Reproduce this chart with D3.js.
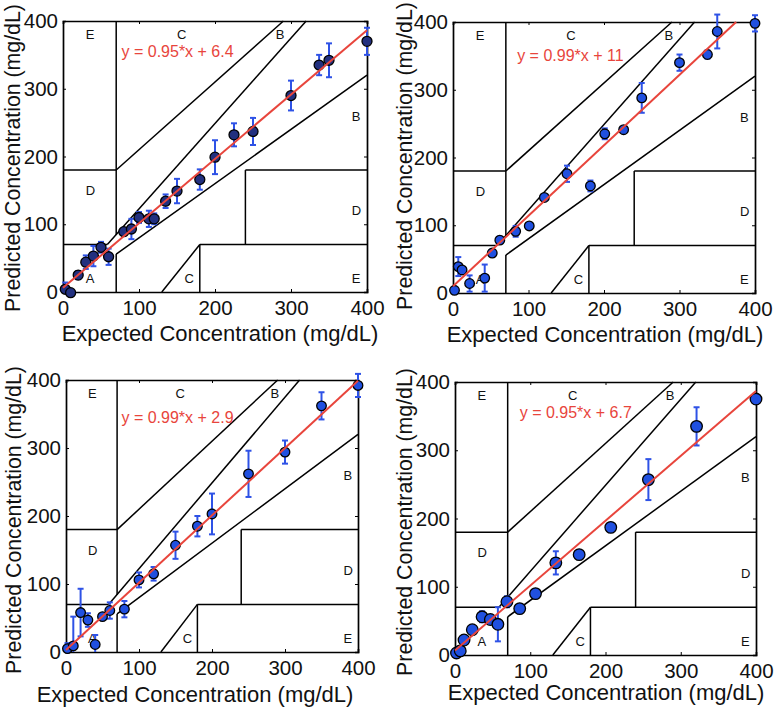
<!DOCTYPE html>
<html><head><meta charset="utf-8">
<script src="https://cdn.jsdelivr.net/npm/d3@7"></script>
<style>body{margin:0;background:#fff} svg{display:block}</style>
</head><body>
<svg id="c" width="775" height="709"></svg>
<script>
// ---------- data ----------
const ticks = [0, 100, 200, 300, 400];
const tickLabels = ["0", "100", "200", "300", "400"];
const xTitle = "Expected Concentration (mg/dL)";
const yTitle = "Predicted Concentration (mg/dL)";

// Clarke error grid boundaries [x1, y1, x2, y2] (mg/dL)
const zoneLines = [
  [0, 70, 175/3, 70], [175/3, 70, 320, 400], [70, 84, 70, 400], [0, 180, 70, 180],
  [70, 180, 290, 400], [70, 0, 70, 56], [70, 56, 400, 320], [180, 0, 180, 70],
  [180, 70, 400, 70], [240, 70, 240, 180], [240, 180, 400, 180], [130, 0, 180, 70]
];
const zoneNames = ["A", "D", "E", "C", "C", "E", "D", "B", "B"];
const zoneNameX = [30, 30, 30, 150, 160, 380, 380, 380, 280];
const zoneNameY = [20, 150, 380, 380, 20, 20, 120, 260, 380];

const p1X = [3, 10, 20, 30, 40, 50, 60, 80, 90, 100, 113, 120, 135, 150, 180, 200, 225, 250, 300, 337, 350, 400];
const p1Y = [4, -1, 25, 44, 53, 66, 52, 89, 93, 110, 108, 108, 134, 149, 166, 199, 232, 237, 290, 335, 342, 370];
const p1E = [10, 4, 6, 10, 15, 8, 12, 5, 15, 8, 12, 8, 10, 18, 15, 25, 17, 20, 22, 15, 25, 20];

const p2X = [2, 7, 12, 22, 42, 52, 62, 83, 101, 121, 151, 182, 201, 226, 250, 300, 337, 350, 400];
const p2Y = [4, 39, 34, 14, 22, 59, 78, 91, 99, 141, 176, 158, 235, 241, 288, 340, 352, 386, 398];
const p2E = [2, 14, 3, 12, 20, 5, 5, 8, 3, 4, 12, 8, 8, 3, 22, 12, 6, 25, 12];

const p3X = [2, 10, 20, 30, 40, 50, 60, 80, 100, 120, 150, 180, 200, 250, 300, 350, 400];
const p3Y = [5, 9, 58, 47, 11, 52, 61, 63, 106, 115, 157, 185, 203, 262, 294, 362, 392];
const p3E = [8, 43, 35, 10, 14, 4, 12, 12, 11, 10, 20, 15, 30, 34, 17, 20, 17];

const p4X = [2, 7, 12, 23, 36, 47, 57, 69, 86, 107, 134, 165, 207, 257, 321, 400];
const p4Y = [3, 6, 22, 37, 56, 52, 45, 78, 68, 90, 135, 147, 187, 257, 335, 375];
const p4E = [2, 2, 6, 5, 8, 3, 25, 8, 3, 3, 17, 3, 6, 30, 28, 3];

// drawn regression lines (as they appear) and their printed labels
const fitSlope = [0.95, 1.04, 0.99, 0.95];
const fitIntercept = [6.4, 10, 2.9, 6.7];
const fitLabels = ["y = 0.95*x + 6.4", "y = 0.99*x + 11", "y = 0.99*x + 2.9", "y = 0.95*x + 6.7"];

// ---------- layout / style ----------
const panels = [
  {l: 63, r: 367, t: 21, b: 292, xs: p1X, ys: p1Y, es: p1E, fill: "#22307f", rad: 5.0, eqX: 77, eqY: 356, xl: 220, xb: 341, yl: 20, ylc: 158},
  {l: 453, r: 755, t: 22, b: 293, xs: p2X, ys: p2Y, es: p2E, fill: "#2050e0", rad: 4.8, eqX: 85, eqY: 351, xl: 605, xb: 342, yl: 412, ylc: 156},
  {l: 66, r: 358, t: 380, b: 652, xs: p3X, ys: p3Y, es: p3E, fill: "#2050e0", rad: 4.8, eqX: 76, eqY: 345, xl: 195, xb: 702, yl: 21, ylc: 520},
  {l: 455, r: 756, t: 382, b: 655, xs: p4X, ys: p4Y, es: p4E, fill: "#2050e0", rad: 5.8, eqX: 86, eqY: 356, xl: 606, xb: 700, yl: 412, ylc: 522}
];
const RED = "#e8453c", BAR = "#2e52e6";
const FONT = "'Liberation Sans', Arial, Helvetica, sans-serif";

const svg = d3.select("#c");

panels.forEach((p, i) => {
  const sx = d3.scaleLinear().domain([0, 400]).range([p.l, p.r]);
  const sy = d3.scaleLinear().domain([0, 400]).range([p.b, p.t]);
  const g = svg.append("g");

  // zone boundaries
  g.selectAll("line.zone").data(zoneLines).join("line")
    .attr("x1", d => sx(d[0])).attr("y1", d => sy(d[1]))
    .attr("x2", d => sx(d[2])).attr("y2", d => sy(d[3]))
    .attr("stroke", "#000").attr("stroke-width", 1.5);

  // zone letters
  g.selectAll("text.zn").data(zoneNames).join("text")
    .attr("x", (d, k) => sx(zoneNameX[k])).attr("y", (d, k) => sy(zoneNameY[k]))
    .attr("dy", "0.36em").attr("font-family", FONT).attr("font-size", 13)
    .attr("fill", "#111").text(d => d);

  // axes with inward ticks
  const axB = d3.axisBottom(sx).tickValues(ticks).tickSize(-3).tickFormat((d, k) => tickLabels[k]).tickPadding(8);
  const axL = d3.axisLeft(sy).tickValues(ticks).tickSize(-3).tickFormat((d, k) => tickLabels[k]).tickPadding(5);
  const axT = d3.axisTop(sx).tickValues(ticks).tickSize(-3).tickFormat("");
  const axR = d3.axisRight(sy).tickValues(ticks).tickSize(-3).tickFormat("");
  const gb = g.append("g").attr("transform", `translate(0,${p.b})`).call(axB);
  g.append("g").attr("transform", `translate(${p.l},0)`).call(axL);
  g.append("g").attr("transform", `translate(0,${p.t})`).call(axT);
  g.append("g").attr("transform", `translate(${p.r},0)`).call(axR);
  g.selectAll(".domain").attr("stroke", "#000").attr("stroke-width", 1.7);
  g.selectAll(".tick line").attr("stroke", "#000").attr("stroke-width", 1);
  g.selectAll(".tick text").attr("font-family", FONT).attr("font-size", 20.5).attr("fill", "#111");
  gb.selectAll(".tick text").attr("dy", "0.71em");

  // error bars
  const pts = p.xs.map((x, k) => ({x, y: p.ys[k], e: p.es[k]}));
  const eb = g.append("g").attr("stroke", BAR).attr("stroke-width", 2);
  eb.selectAll("line.v").data(pts).join("line")
    .attr("x1", d => sx(d.x)).attr("x2", d => sx(d.x))
    .attr("y1", d => Math.min(p.b, sy(d.y - d.e))).attr("y2", d => sy(d.y + d.e));
  eb.selectAll("line.c1").data(pts).join("line")
    .attr("x1", d => sx(d.x) - 3).attr("x2", d => sx(d.x) + 3)
    .attr("y1", d => sy(d.y + d.e)).attr("y2", d => sy(d.y + d.e));
  eb.selectAll("line.c2").data(pts.filter(d => d.y - d.e >= 0)).join("line")
    .attr("x1", d => sx(d.x) - 3).attr("x2", d => sx(d.x) + 3)
    .attr("y1", d => sy(d.y - d.e)).attr("y2", d => sy(d.y - d.e));

  // points
  g.selectAll("circle").data(pts).join("circle")
    .attr("cx", d => sx(d.x)).attr("cy", d => sy(d.y)).attr("r", p.rad)
    .attr("fill", p.fill).attr("stroke", "#000").attr("stroke-width", 1.3);

  // fit line, clipped to [0,400]
  const m = fitSlope[i], c = fitIntercept[i];
  const xEnd = Math.min(400, (400 - c) / m);
  g.append("line")
    .attr("x1", sx(0)).attr("y1", sy(c)).attr("x2", sx(xEnd)).attr("y2", sy(m * xEnd + c))
    .attr("stroke", RED).attr("stroke-width", 2);
  g.append("text").attr("x", sx(p.eqX)).attr("y", sy(p.eqY)).attr("dy", "0.36em")
    .attr("font-family", FONT).attr("font-size", 16).attr("fill", RED).text(fitLabels[i]);

  // axis titles
  g.append("text").attr("x", p.xl).attr("y", p.xb).attr("text-anchor", "middle")
    .attr("font-family", FONT).attr("font-size", 22).attr("fill", "#111").text(xTitle);
  g.append("text").attr("transform", `translate(${p.yl},${p.ylc}) rotate(-90)`).attr("text-anchor", "middle")
    .attr("font-family", FONT).attr("font-size", 21.3).attr("fill", "#111").text(yTitle);
});
</script>
</body></html>
